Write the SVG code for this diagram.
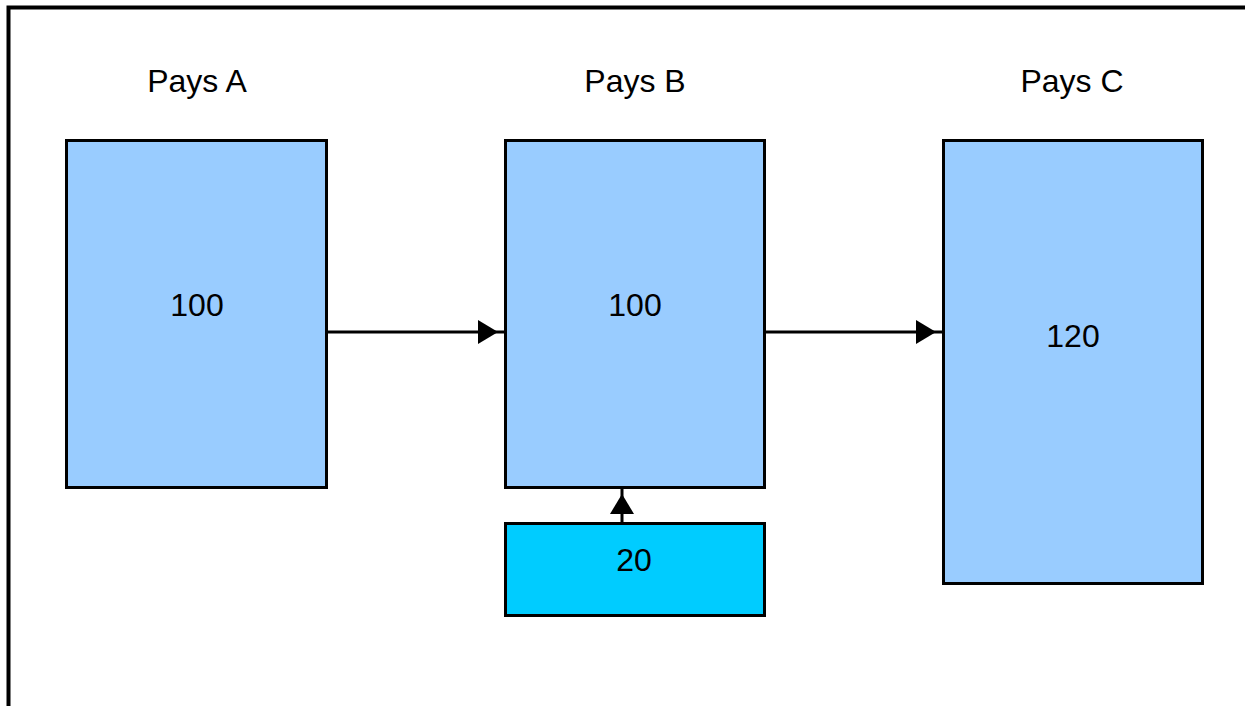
<svg xmlns="http://www.w3.org/2000/svg" width="1245" height="706" viewBox="0 0 1245 706">
<style>
.box{fill:#99CCFF;stroke:#000;stroke-width:3}
.small{fill:#00CCFF;stroke:#000;stroke-width:3}
.t{font-family:"Liberation Sans",Arial,sans-serif;font-size:32px;fill:#000;text-anchor:middle}
.c{stroke:#000;stroke-width:3;fill:none}
</style>
<defs>
<marker id="ah" markerWidth="20" markerHeight="24" refX="19" refY="12" orient="auto" markerUnits="userSpaceOnUse">
<path d="M0,0 L20,12 L0,24 Z" fill="#000"/>
</marker>
</defs>
<g id="frame">
<path d="M8.5,706 V7.5 H1245" fill="none" stroke="#000" stroke-width="4"/>
</g>
<g id="labels">
<text class="t" x="197" y="92">Pays A</text>
<text class="t" x="635" y="92">Pays B</text>
<text class="t" x="1072" y="92">Pays C</text>
</g>
<g id="nodeA">
<rect class="box" x="66.5" y="140.5" width="260" height="347"/>
<text class="t" x="197" y="316">100</text>
</g>
<g id="nodeB">
<rect class="box" x="505.5" y="140.5" width="259" height="347"/>
<text class="t" x="635" y="316">100</text>
</g>
<g id="nodeC">
<rect class="box" x="943.5" y="140.5" width="259" height="443"/>
<text class="t" x="1073" y="347">120</text>
</g>
<g id="nodeD">
<rect class="small" x="505.5" y="523.5" width="259" height="92"/>
<text class="t" x="634" y="571">20</text>
</g>
<g id="connectors">
<path class="c" d="M328,332 L497,332 L505,332" marker-mid="url(#ah)"/>
<path class="c" d="M766,332 L935,332 L943,332" marker-mid="url(#ah)"/>
<path class="c" d="M622,522 L622,495 L622,489" marker-mid="url(#ah)"/>
</g>
</svg>
